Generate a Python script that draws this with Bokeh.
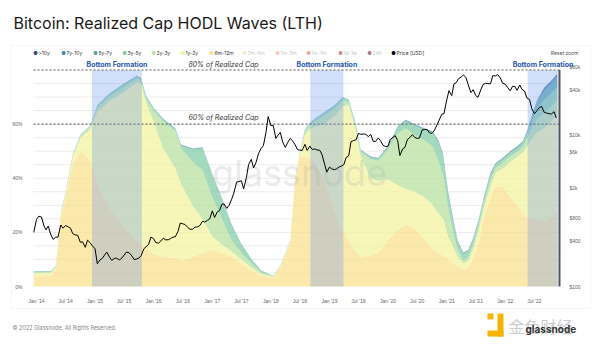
import pandas as pd
from bokeh.plotting import figure
from bokeh.models import (ColumnDataSource, Range1d, LogScale, LogAxis, FixedTicker,
                          CustomJSTickFormatter, DatetimeTickFormatter, PrintfTickFormatter,
                          BoxAnnotation, Label)
from bokeh.embed import file_html
from bokeh.resources import INLINE

# ---------------- data ----------------
wave_dates = ["2013-12-15", "2014-02-01", "2014-04-01", "2014-05-01", "2014-06-01", "2014-07-01",
              "2014-08-15", "2014-10-01", "2014-12-01", "2015-01-15", "2015-04-01", "2015-07-01",
              "2015-09-20", "2015-10-15", "2015-11-15", "2016-01-01", "2016-03-01", "2016-05-15",
              "2016-06-20", "2016-09-01", "2016-11-01", "2017-01-01", "2017-03-01", "2017-05-01",
              "2017-07-01", "2017-09-01", "2017-11-01", "2018-01-15", "2018-03-01", "2018-05-01",
              "2018-06-01", "2018-07-01", "2018-08-01", "2018-09-01", "2018-10-01", "2018-12-01",
              "2019-02-01", "2019-03-25", "2019-05-01", "2019-06-10", "2019-07-15", "2019-09-15",
              "2019-11-01", "2020-01-01", "2020-03-01", "2020-04-20", "2020-06-15", "2020-08-15",
              "2020-10-01", "2020-11-10", "2020-12-10", "2021-01-10", "2021-02-10", "2021-03-10",
              "2021-04-15", "2021-05-15", "2021-06-15", "2021-07-20", "2021-08-20", "2021-10-01",
              "2021-11-01", "2021-12-15", "2022-02-01", "2022-03-20", "2022-04-20", "2022-05-20",
              "2022-06-20", "2022-07-20", "2022-09-01", "2022-10-15", "2022-11-20"]

w_6m_12m = [3.6, 3.8, 4.0, 6.0, 25.0, 33.0, 45.0, 50.0, 47.0, 38.0, 29.0, 21.8,
            17.0, 15.5, 14.0, 12.0, 11.0, 10.5, 9.5, 11.0, 12.5, 13.5, 12.5, 11.0,
            8.5, 6.0, 4.0, 3.2, 7.0, 16.0, 39.0, 48.0, 48.0, 47.0, 46.0, 39.0,
            28.0, 20.5, 17.0, 13.0, 11.0, 11.5, 12.5, 17.0, 21.0, 23.0, 21.5, 17.5,
            14.0, 12.5, 11.5, 10.0, 8.5, 7.5, 6.0, 7.0, 10.0, 16.0, 26.0, 32.5,
            37.0, 37.0, 33.0, 29.5, 27.0, 25.5, 25.0, 24.5, 24.0, 26.0, 28.0]
w_1y_2y = [1.2, 1.2, 1.1, 0.9, 1.2, 1.3, 2.8, 5.0, 11.0, 26.5, 39.5, 50.0,
           58.5, 59.2, 54.0, 49.0, 40.0, 33.3, 28.3, 18.7, 12.5, 5.0, 3.0, 2.0,
           1.5, 1.0, 0.6, 0.3, 0.3, 0.4, 0.5, 1.2, 8.0, 11.0, 13.0, 21.0,
           35.0, 46.0, 50.0, 45.5, 37.0, 28.5, 26.5, 22.5, 16.5, 13.0, 13.5, 15.5,
           16.5, 14.5, 13.5, 8.5, 6.0, 3.5, 2.5, 2.5, 4.0, 5.0, 3.0, 4.5,
           5.0, 6.5, 13.0, 18.5, 22.5, 26.5, 30.0, 32.5, 34.5, 35.0, 35.5]
w_2y_3y = [0.5, 0.4, 0.3, 0.3, 0.4, 0.4, 0.6, 0.6, 1.0, 1.5, 1.7, 1.8,
           1.3, 1.2, 1.5, 4.0, 10.0, 13.7, 13.2, 16.3, 18.0, 14.5, 9.5, 4.0,
           2.5, 1.5, 0.6, 0.3, 0.2, 0.3, 0.3, 0.5, 1.2, 1.6, 2.0, 3.2,
           2.6, 2.2, 1.0, 1.5, 1.8, 7.0, 7.5, 11.0, 19.0, 22.5, 21.0, 21.0,
           21.5, 19.5, 16.0, 10.5, 5.5, 2.5, 1.2, 1.4, 1.5, 1.7, 1.8, 2.5,
           1.7, 2.0, 2.0, 2.0, 2.0, 3.0, 4.0, 5.0, 5.5, 5.5, 5.0]
w_3y_5y = [0.2, 0.2, 0.2, 0.2, 0.3, 0.2, 0.3, 0.3, 0.4, 0.7, 0.8, 1.0,
           0.8, 0.7, 0.6, 0.6, 0.6, 0.6, 1.1, 4.5, 8.0, 8.0, 7.3, 5.5,
           2.8, 1.4, 0.5, 0.15, 0.15, 0.15, 0.15, 0.2, 0.5, 0.6, 0.7, 1.0,
           1.1, 1.0, 0.7, 0.7, 0.4, 0.6, 0.6, 1.0, 2.0, 2.5, 3.3, 3.8,
           4.8, 6.8, 6.8, 4.5, 4.0, 3.0, 2.2, 2.2, 2.1, 1.9, 1.8, 1.8,
           1.4, 1.3, 1.3, 1.3, 1.5, 1.8, 2.8, 4.0, 5.0, 5.0, 5.0]
w_5y_7y = [0.1, 0.1, 0.1, 0.1, 0.1, 0.1, 0.1, 0.1, 0.1, 0.3, 0.3, 0.4,
           0.4, 0.4, 0.4, 0.4, 0.4, 0.4, 0.4, 0.5, 0.5, 0.5, 0.5, 0.5,
           0.4, 0.3, 0.2, 0.05, 0.05, 0.05, 0.05, 0.1, 0.2, 0.2, 0.2, 0.2,
           0.2, 0.2, 0.2, 0.2, 0.2, 0.2, 0.2, 0.3, 0.3, 0.4, 0.5, 0.5,
           0.5, 0.5, 0.8, 1.1, 0.7, 0.3, 0.4, 0.2, 0.2, 0.2, 0.2, 0.3,
           0.2, 0.4, 0.4, 0.4, 0.4, 0.8, 1.5, 2.2, 3.0, 3.2, 3.5]
w_7y_10y = [0, 0, 0, 0, 0, 0, 0, 0, 0, 0, 0, 0,
            0, 0, 0, 0, 0, 0, 0, 0, 0, 0, 0, 0,
            0, 0, 0, 0, 0, 0, 0, 0, 0.1, 0.1, 0.1, 0.1,
            0.1, 0.1, 0.1, 0.1, 0.1, 0.1, 0.1, 0.1, 0.1, 0.1, 0.1, 0.1,
            0.1, 0.1, 0.1, 0.3, 0.2, 0.1, 0.1, 0.1, 0.1, 0.1, 0.1, 0.2,
            0.1, 0.2, 0.2, 0.2, 0.1, 0.3, 0.5, 0.6, 1.0, 1.0, 1.0]
w_10y_plus = [0, 0, 0, 0, 0, 0, 0, 0, 0, 0, 0, 0,
              0, 0, 0, 0, 0, 0, 0, 0, 0, 0, 0, 0,
              0, 0, 0, 0, 0, 0, 0, 0, 0, 0, 0, 0,
              0, 0, 0, 0, 0, 0.1, 0.1, 0.1, 0.1, 0.1, 0.1, 0.1,
              0.1, 0.1, 0.1, 0.1, 0.1, 0.1, 0.1, 0.1, 0.1, 0.1, 0.1, 0.2,
              0.1, 0.1, 0.1, 0.1, 0.1, 0.1, 0.2, 0.2, 0.5, 0.3, 0.5]

# BTC price [USD], semi-monthly (1st / 15th), from 2013-12-15 to 2022-11-15
price_first_date = "2013-12-15"
price_usd = [520,
    770, 850, 830, 650, 560, 630, 480, 420, 450, 450, 650, 590, 640, 620, 590, 500, 480, 475, 385, 390, 330, 410, 380, 345,
    315, 200, 225, 235, 260, 285, 245, 222, 235, 237, 225, 235, 260, 285, 280, 260, 228, 230, 238, 255, 315, 335, 360, 450,
    430, 380, 375, 400, 435, 415, 415, 430, 450, 455, 535, 690, 675, 660, 605, 570, 575, 610, 615, 640, 730, 710, 750, 780,
    1000, 820, 970, 1010, 1220, 1240, 1080, 1180, 1420, 1720, 2400, 2450, 2500, 1950, 2750, 4100, 4800, 3700, 4400, 5700, 6700, 7300, 10800, 17700,
    13400, 13600, 9100, 10100, 10900, 8200, 6900, 8000, 9100, 8500, 7500, 6500, 6350, 6300, 7600, 6300, 7200, 6500, 6600, 6400, 6350, 5600, 4200, 3250,
    3800, 3600, 3500, 3600, 3800, 3900, 4100, 5100, 5350, 8200, 8550, 8700, 10600, 10300, 10400, 10300, 9600, 10300, 8300, 8300, 9200, 8500, 7400, 7100,
    7200, 8800, 9400, 9900, 8500, 5400, 6600, 6900, 8800, 9300, 10200, 9400, 9100, 9200, 11800, 11900, 11900, 10800, 10600, 11500, 13700, 15900, 19000, 19400,
    29400, 39000, 33500, 47900, 49600, 56000, 59000, 63000, 57800, 46500, 36700, 40200, 33500, 31800, 39900, 47000, 48800, 48100, 48200, 61600, 61000, 63600, 57200, 48900,
    47300, 43100, 38700, 44500, 44400, 39300, 46300, 40500, 38500, 31300, 29800, 22600, 19300, 20800, 23300, 24100, 20100, 19700, 19300, 19100, 20500, 16900]

band_names = [">10y", "7y-10y", "5y-7y", "3y-5y", "2y-3y", "1y-2y", "6m-12m"]
band_colors = ["#34457f", "#3a86b2", "#4fa3a0", "#7fcaa3", "#b6df9c", "#f2f29e", "#f9e08a"]
inactive_names = ["3m-6m", "1m-3m", "1w-1m", "1d-1w", "24h"]
inactive_colors = ["#f6d9a0", "#f0a987", "#e0705a", "#c0304a", "#7a1040"]

bottom_periods = [("2014-12-13", "2015-10-20"), ("2018-09-04", "2019-03-29"), ("2022-05-20", "2022-11-28")]
realized_levels = [80, 60]
grid_levels = list(range(5, 80, 5))
left_ticks = [0, 20, 40, 60]
price_ticks = [100, 400, 800, 2000, 6000, 10000, 40000, 80000]

# ---------------- geometry (canvas pixels) ----------------
W, H = 600, 346
JAN14_PX, PX_PER_YEAR = 36.0, 58.6
ZERO_PX, PCT_PX, DEC_PX = 286.0, (286.0 - 69.5) / 80.0, 75.6
PLOT_L, PLOT_R = 33, 559

jan14 = pd.Timestamp("2014-01-01")
year = pd.Timedelta(days=365.25)

def px_date(px):
    return jan14 + (px - JAN14_PX) / PX_PER_YEAR * year

def ms(ts):
    return pd.Timestamp(ts).value / 1e6

def px_pct(py):
    return (ZERO_PX - py) / PCT_PX

def px_price(py):
    return 100 * 10 ** ((ZERO_PX - py) / DEC_PX)

# ---------------- sources ----------------
wdf = pd.DataFrame({
    "date": pd.to_datetime(wave_dates),
    "6m-12m": w_6m_12m, "1y-2y": w_1y_2y, "2y-3y": w_2y_3y, "3y-5y": w_3y_5y,
    "5y-7y": w_5y_7y, "7y-10y": w_7y_10y, ">10y": w_10y_plus,
})
wsrc = ColumnDataSource(wdf)
pdates = pd.date_range(price_first_date, periods=len(price_usd), freq="SMS")
psrc = ColumnDataSource(dict(date=pdates, price=price_usd))

# ---------------- figure (frame = whole canvas) ----------------
p = figure(width=W, height=H, x_axis_type="datetime", output_backend="svg",
           toolbar_location=None,
           x_range=Range1d(px_date(0), px_date(W)), y_range=Range1d(px_pct(H), px_pct(0)),
           min_border=0, min_border_left=0, min_border_right=0, min_border_top=0, min_border_bottom=0,
           background_fill_color="white", border_fill_color="white")
p.outline_line_color = None
p.grid.visible = False
p.extra_y_ranges = {"price": Range1d(px_price(H), px_price(0))}
p.extra_y_scales = {"price": LogScale()}

# card border
p.add_layout(BoxAnnotation(left=11, right=590, top=45, bottom=308, left_units="canvas",
                           right_units="canvas", top_units="canvas", bottom_units="canvas",
                           fill_color=None, line_color="#e6e6e6", line_width=1, level="underlay"))

x_left, x_right = px_date(PLOT_L), px_date(PLOT_R)

# horizontal grid lines
p.segment(x0=[x_left] * len(grid_levels), x1=[x_right] * len(grid_levels),
          y0=grid_levels, y1=grid_levels, line_color="#ececec", line_width=1, level="underlay")

# HODL waves
stack_order = ["6m-12m", "1y-2y", "2y-3y", "3y-5y", "5y-7y", "7y-10y", ">10y"]
color_of = dict(zip(band_names, band_colors))
p.varea_stack(stackers=stack_order, x="date", source=wsrc,
              color=[color_of[n] for n in stack_order], fill_alpha=0.72)

# bottom formation bands
for a, b in bottom_periods:
    p.add_layout(BoxAnnotation(left=pd.Timestamp(a), right=pd.Timestamp(b), top=80, bottom=0,
                               fill_color="#5b8def", fill_alpha=0.28, line_color=None))

# realized cap reference lines
p.segment(x0=[x_left] * len(realized_levels), x1=[x_right] * len(realized_levels),
          y0=realized_levels, y1=realized_levels, line_color="#555555",
          line_dash="2 2", line_width=1, level="annotation")

# price
pr = p.line(x="date", y="price", source=psrc, y_range_name="price",
            line_color="black", line_width=1.0)
pr.level = "overlay"

# right axis line over the plotting area
p.add_layout(BoxAnnotation(left=558, right=560, top=80, bottom=0, left_units="canvas",
                           right_units="canvas", fill_color="#555555", fill_alpha=1.0,
                           line_color=None, level="overlay"))

# ---------------- axes ----------------
p.yaxis.fixed_location = ms(px_date(31))
p.yaxis.ticker = FixedTicker(ticks=left_ticks)
p.yaxis.formatter = PrintfTickFormatter(format="%d%%")
p.yaxis.axis_line_color = None
p.yaxis.major_tick_line_color = None
p.yaxis.minor_tick_line_color = None
p.yaxis.major_label_text_font_size = "5px"
p.yaxis.major_label_text_color = "#666666"
p.yaxis.major_label_standoff = 3

tick_dates = pd.date_range("2014-01-01", "2022-07-01", freq="6MS")
p.xaxis.fixed_location = px_pct(287)
p.xaxis.ticker = FixedTicker(ticks=[ms(t) for t in tick_dates])
fmt = "%b '%y"
p.xaxis.formatter = DatetimeTickFormatter(days=fmt, months=fmt, years=fmt, hours=fmt)
p.xaxis.axis_line_color = None
p.xaxis.major_tick_line_color = None
p.xaxis.minor_tick_line_color = None
p.xaxis.major_label_text_font_size = "5px"
p.xaxis.major_label_text_color = "#666666"
p.xaxis.major_label_standoff = 4

raxis = LogAxis(y_range_name="price", ticker=FixedTicker(ticks=price_ticks),
                formatter=CustomJSTickFormatter(code="return tick >= 1000 ? '$' + (tick/1000) + 'k' : '$' + tick;"))
raxis.fixed_location = ms(px_date(559))
raxis.axis_line_color = None
raxis.major_tick_line_color = None
raxis.minor_tick_line_color = None
raxis.major_label_text_font_size = "5px"
raxis.major_label_text_color = "#666666"
raxis.major_label_standoff = 4
p.add_layout(raxis, "right")

# ---------------- texts ----------------
font = "Inter"

def canvas_label(x, y, text, size, color="#333333", align="left", style="normal", fnt=font, alpha=1.0):
    p.add_layout(Label(x=x, y=y, x_units="canvas", y_units="canvas", text=text,
                       text_font=fnt, text_font_size=size, text_color=color,
                       text_align=align, text_baseline="middle", text_font_style=style,
                       text_alpha=alpha))

canvas_label(299, 172, "glassnode", "36px", color="#b0b0b0", align="center", alpha=0.25)

for a, b in bottom_periods:
    mid_ms = (ms(a) + ms(b)) / 2
    p.add_layout(Label(x=mid_ms, y=63.5, y_units="canvas", text="Bottom Formation",
                       text_font=font, text_font_size="7px", text_font_style="bold",
                       text_color="#1f55b0", text_align="center", text_baseline="middle"))
canvas_label(223, 63.5, "80% of Realized Cap", "7px", color="#333333", align="center", style="italic")
canvas_label(223, 117, "60% of Realized Cap", "7px", color="#333333", align="center", style="italic")

canvas_label(13, 22, "Bitcoin: Realized Cap HODL Waves (LTH)", "16px", color="#1a1a1a")

legend_items = [(35, ">10y", band_colors[0], True), (63, "7y-10y", band_colors[1], True),
                (95, "5y-7y", band_colors[2], True), (124, "3y-5y", band_colors[3], True),
                (153, "2y-3y", band_colors[4], True), (182, "1y-2y", band_colors[5], True),
                (211, "6m-12m", band_colors[6], True)]
inactive_x = [244, 277, 308, 340, 369]
for xx, n, c in zip(inactive_x, inactive_names, inactive_colors):
    legend_items.append((xx, n, c, False))
legend_items.append((393, "Price [USD]", "#000000", True))
for xx, n, c, active in legend_items:
    canvas_label(xx, 52, "●", "5px", color=c, align="center", alpha=1.0 if active else 0.6)
    canvas_label(xx + 3, 52.5, n, "5px", color="#333333" if active else "#c8c8c8")
canvas_label(578, 52, "Reset zoom", "5px", color="#555555", align="right")

# footer
canvas_label(12, 327, "© 2022 Glassnode. All Rights Reserved.", "5.5px", color="#888888")
for l, r, t, b in [(487, 493, 313, 319), (497, 503, 313, 336), (487, 503, 330, 336)]:
    p.add_layout(BoxAnnotation(left=l, right=r, top=t, bottom=b, left_units="canvas",
                               right_units="canvas", top_units="canvas", bottom_units="canvas",
                               fill_color="#f5b400", fill_alpha=1.0, line_color=None))
canvas_label(508, 325, "金色财经", "16px", color="#cccccc", fnt="Noto Sans CJK SC")
canvas_label(525, 328, "glassnode", "10px", color="#333333", style="bold")

open("out.html", "w").write(file_html(p, INLINE))
